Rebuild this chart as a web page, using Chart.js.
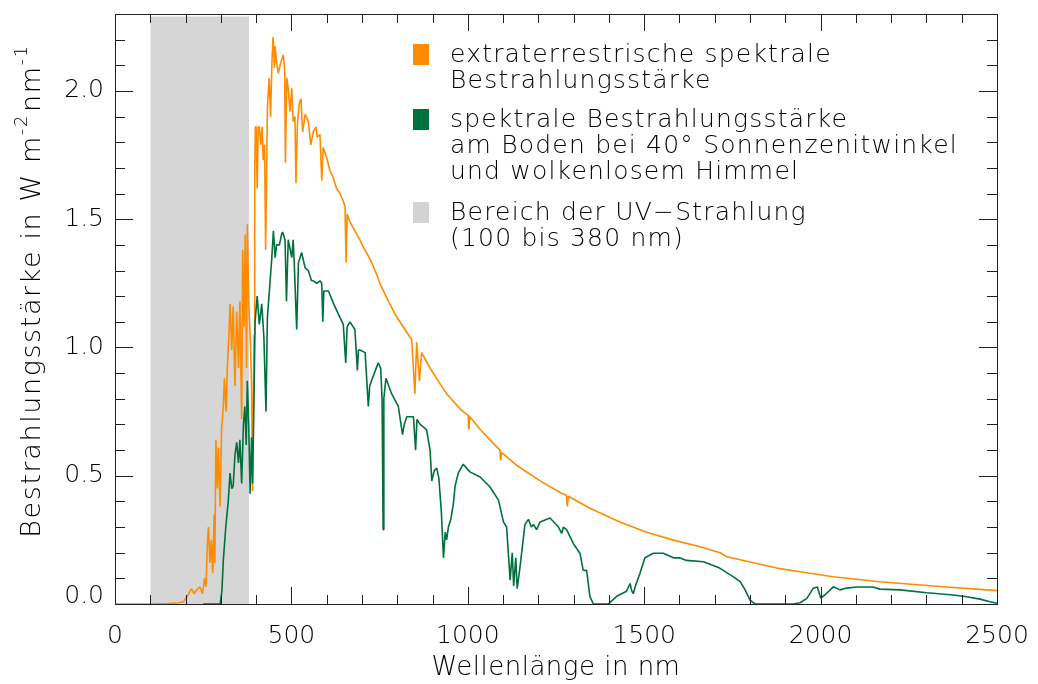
<!DOCTYPE html>
<html>
<head>
<meta charset="utf-8">
<script src="https://cdn.jsdelivr.net/npm/chart.js@4.4.1/dist/chart.umd.min.js"></script>
<style>
  html, body { margin: 0; padding: 0; background: #fff; }
  #wrap { width: 1038px; height: 684px; position: relative; }
</style>
</head>
<body>
<div id="wrap"><canvas id="c" width="1038" height="684"></canvas></div>
<script>
// ---------- data ----------
const extraWl = [0,100,150,180,194,207,217,224,231,241,248,254,258,262,265,269,273,277,281,283,286,290,293,298,302,307,310,315,318,323,326,331,335,340,345,350,354,359,362,366,369,373,375,379,383,387,390,394,396,398,400,403,406,409,413,417,420,424,427,432,437,441,445,448,452,454,458,463,468,472,477,481,483,487,491,496,501,505,510,513,517,522,527,532,539,548,555,562,570,573,581,586,590,600,609,619,628,638,647,652,655,658,666,680,694,704,713,728,746,751,775,798,822,841,850,855,863,869,893,916,940,959,978,1001,1003,1006,1035,1063,1091,1093,1096,1139,1205,1268,1280,1282,1285,1346,1431,1507,1583,1639,1658,1715,1734,1819,1876,1942,2035,2168,2319,2500];
const extraVal = [0,0,0.002,0.005,0.009,0.035,0.06,0.04,0.055,0.066,0.04,0.10,0.067,0.24,0.30,0.16,0.25,0.12,0.35,0.16,0.64,0.45,0.61,0.38,0.68,0.77,0.88,0.75,0.91,1.05,1.17,0.99,1.16,0.85,1.14,0.92,1.18,0.72,1.38,1.08,1.44,0.92,1.48,1.18,1.05,0.86,0.44,1.05,1.68,1.86,1.86,1.62,1.86,1.86,1.79,1.86,1.73,1.79,1.38,1.935,2.05,1.90,2.12,2.21,2.09,2.175,2.11,2.07,2.10,2.12,2.14,2.08,1.72,2.05,2.01,1.92,2.01,1.88,1.90,1.64,1.87,1.95,1.97,1.84,1.91,1.88,1.79,1.84,1.86,1.82,1.83,1.65,1.78,1.74,1.69,1.66,1.62,1.60,1.57,1.55,1.33,1.52,1.49,1.455,1.42,1.39,1.37,1.33,1.27,1.25,1.18,1.12,1.07,1.03,0.82,1.02,0.87,0.98,0.92,0.87,0.82,0.79,0.76,0.735,0.68,0.73,0.68,0.64,0.60,0.56,0.59,0.54,0.48,0.43,0.424,0.38,0.42,0.373,0.32,0.28,0.249,0.23,0.223,0.20,0.184,0.158,0.14,0.126,0.106,0.087,0.07,0.052];

const groundWl = [250,298,303,307,314,321,326,331,335,340,345,350,354,359,364,368,372,375,379,383,387,390,394,397,403,409,416,422,428,432,437,444,449,454,458,466,472,475,482,486,491,501,505,508,515,520,529,539,548,557,562,572,581,586,589,592,605,620,633,647,654,658,666,680,687,690,694,709,718,722,727,746,753,757,760,762,768,784,803,815,820,827,846,852,856,865,883,893,898,905,912,918,925,931,936,940,945,952,959,964,973,987,1006,1035,1063,1087,1101,1110,1120,1126,1130,1136,1140,1148,1162,1172,1180,1186,1195,1205,1233,1257,1266,1271,1280,1299,1318,1327,1337,1346,1356,1398,1422,1450,1460,1465,1469,1475,1488,1502,1526,1554,1583,1600,1620,1668,1705,1715,1753,1772,1786,1800,1814,1923,1942,1961,1979,1991,2000,2012,2036,2055,2074,2102,2149,2168,2225,2301,2376,2414,2452,2480,2500];
const groundVal = [0,0,0.05,0.17,0.30,0.40,0.51,0.45,0.46,0.58,0.63,0.55,0.64,0.47,0.70,0.77,0.62,0.87,0.70,0.43,0.65,0.47,0.80,1.10,1.20,1.09,1.17,1.04,0.75,1.12,1.21,1.34,1.455,1.35,1.40,1.40,1.44,1.45,1.42,1.18,1.42,1.35,1.42,1.33,1.07,1.33,1.37,1.31,1.30,1.26,1.26,1.25,1.26,1.25,1.10,1.22,1.22,1.17,1.13,1.09,0.94,1.08,1.10,1.07,0.91,0.99,0.99,0.98,0.77,0.85,0.87,0.94,0.92,0.80,0.29,0.80,0.88,0.82,0.77,0.66,0.70,0.73,0.73,0.60,0.72,0.70,0.68,0.60,0.48,0.52,0.53,0.49,0.36,0.18,0.28,0.25,0.30,0.33,0.39,0.46,0.51,0.545,0.515,0.495,0.456,0.405,0.32,0.30,0.093,0.20,0.07,0.18,0.06,0.145,0.31,0.33,0.30,0.31,0.29,0.32,0.335,0.30,0.275,0.30,0.29,0.236,0.197,0.132,0.13,0.03,0,0,0.03,0.05,0.08,0.05,0.04,0.07,0.12,0.18,0.198,0.198,0.18,0.18,0.17,0.165,0.145,0.139,0.106,0.087,0.055,0.015,0,0,0.005,0.022,0.061,0.066,0.023,0.035,0.067,0.055,0.062,0.066,0.066,0.058,0.055,0.044,0.035,0.028,0.019,0.009,0.003];

const uvRange = [100, 380];      // nm
const uvTop = 2.29;

const xTicks = [0, 500, 1000, 1500, 2000, 2500];
const yTicks = [0.0, 0.5, 1.0, 1.5, 2.0];
const xMinorStep = 100;
const yMinorStep = 0.1;

const legendItems = [
  { color: '#ff8c00', lines: ['extraterrestrische spektrale', 'Bestrahlungsstärke'] },
  { color: '#00703c', lines: ['spektrale Bestrahlungsstärke', 'am Boden bei 40° Sonnenzenitwinkel', 'und wolkenlosem Himmel'] },
  { color: '#d3d3d3', lines: ['Bereich der UV\u2212Strahlung', '(100 bis 380 nm)'] }
];
const xTitle = 'Wellenlänge in nm';
const yTitleParts = [['Bestrahlungsstärke in W m', false], ['-2', true], ['nm', false], ['-1', true]];

// ---------- chart ----------
const FONT = '"DejaVu Sans", sans-serif';
const W = '200 ';
const TEXT = '#000000';
Chart.defaults.font.family = FONT;
Chart.defaults.color = TEXT;

const decor = {
  id: 'decor',
  afterDraw(chart) {
    const ctx = chart.ctx, ca = chart.chartArea;
    const xs = chart.scales.x, ys = chart.scales.y;
    ctx.save();
    ctx.strokeStyle = '#202020';
    ctx.lineWidth = 1;
    ctx.strokeRect(Math.round(ca.left) + 0.5, Math.round(ca.top) + 0.5,
                   Math.round(ca.right - ca.left), Math.round(ca.bottom - ca.top));
    ctx.beginPath();
    for (let v = xs.min; v <= xs.max + 1e-9; v += xMinorStep) {
      const major = xTicks.some(t => Math.abs(t - v) < 1e-6);
      const L = major ? 17 : 9;
      const px = Math.round(xs.getPixelForValue(v)) + 0.5;
      ctx.moveTo(px, ca.bottom); ctx.lineTo(px, ca.bottom - L);
      ctx.moveTo(px, ca.top); ctx.lineTo(px, ca.top + L);
    }
    for (let k = 0; ; k++) {
      const v = ys.min + k * yMinorStep;
      if (v > ys.max + 1e-9) break;
      const major = yTicks.some(t => Math.abs(t - v) < 1e-6);
      const L = major ? 18 : 10;
      const py = Math.round(ys.getPixelForValue(v)) + 0.5;
      ctx.moveTo(ca.left, py); ctx.lineTo(ca.left + L, py);
      ctx.moveTo(ca.right, py); ctx.lineTo(ca.right - L, py);
    }
    ctx.stroke();

    ctx.fillStyle = TEXT;
    ctx.textBaseline = 'middle';

    // y tick labels (the 0.0 label sits slightly raised, as in the original)
    ctx.font = W + '25px ' + FONT;
    ctx.textAlign = 'right';
    yTicks.forEach(v => {
      const py = ys.getPixelForValue(v) - (v === 0 ? 8 : 0);
      ctx.fillText(v.toFixed(1), ca.left - 11, py);
    });

    // legend
    ctx.textAlign = 'left';
    try { ctx.letterSpacing = '1.2px'; } catch (e) {}
    const blockY = [55, 120, 213];
    const lineH = 26;
    legendItems.forEach((it, i) => {
      ctx.fillStyle = it.color;
      ctx.fillRect(413, blockY[i] - 11, 16, 21);
      ctx.fillStyle = TEXT;
      it.lines.forEach((ln, j) => ctx.fillText(ln, 450, blockY[i] + j * lineH));
    });

    // x title
    ctx.textAlign = 'center';
    ctx.font = W + '26px ' + FONT;
    try { ctx.letterSpacing = '0.5px'; } catch (e) {}
    ctx.fillText(xTitle, (ca.left + ca.right) / 2, 668);

    // y title with superscripts
    try { ctx.letterSpacing = '1.6px'; } catch (e) {}
    ctx.save();
    ctx.translate(33, 290);
    ctx.rotate(-Math.PI / 2);
    ctx.textAlign = 'left';
    const bigF = W + '27px ' + FONT, supF = W + '18px ' + FONT;
    let total = 0;
    yTitleParts.forEach(([t, sup]) => { ctx.font = sup ? supF : bigF; total += ctx.measureText(t).width + (sup ? 2 : 0); });
    let xx = -total / 2;
    yTitleParts.forEach(([t, sup]) => {
      ctx.font = sup ? supF : bigF;
      ctx.fillText(t, xx, sup ? -11 : 0);
      xx += ctx.measureText(t).width + (sup ? 2 : 0);
    });
    ctx.restore();
    ctx.restore();
  }
};

new Chart(document.getElementById('c'), {
  type: 'line',
  data: {
    datasets: [
      {
        label: 'UV',
        data: uvRange.map(x => ({ x, y: uvTop })),
        fill: 'origin',
        backgroundColor: '#d6d6d6',
        borderWidth: 0,
        pointRadius: 0,
        order: 3
      },
      {
        label: 'extraterrestrisch',
        data: extraWl.map((x, i) => ({ x, y: extraVal[i] })),
        borderColor: '#ff8c00',
        borderWidth: 1.6,
        borderJoinStyle: 'bevel',
        pointRadius: 0,
        fill: false,
        tension: 0,
        order: 2
      },
      {
        label: 'Boden',
        data: groundWl.map((x, i) => ({ x, y: groundVal[i] })),
        borderColor: '#00703c',
        borderWidth: 1.6,
        borderJoinStyle: 'bevel',
        pointRadius: 0,
        fill: false,
        tension: 0,
        order: 1
      }
    ]
  },
  options: {
    responsive: false,
    animation: false,
    events: [],
    layout: { padding: { left: 0, top: 14, right: 41, bottom: 0 } },
    plugins: { legend: { display: false }, tooltip: { enabled: false } },
    scales: {
      x: {
        type: 'linear',
        min: 0, max: 2500,
        grid: { display: false, drawTicks: false },
        border: { display: false },
        afterBuildTicks: s => { s.ticks = xTicks.map(v => ({ value: v })); },
        afterFit: s => { s.height = 80; s.paddingLeft = 0; s.paddingRight = 0; s.paddingTop = 0; s.paddingBottom = 0; },
        ticks: { font: { size: 25, weight: '200' }, color: TEXT, padding: 17, maxRotation: 0, autoSkip: false, callback: v => String(v) }
      },
      y: {
        type: 'linear',
        min: 0, max: 2.3,
        grid: { display: false, drawTicks: false },
        border: { display: false },
        afterBuildTicks: s => { s.ticks = yTicks.map(v => ({ value: v })); },
        afterFit: s => { s.width = 115; s.paddingLeft = 0; s.paddingRight = 0; s.paddingTop = 0; s.paddingBottom = 0; },
        ticks: { display: false }
      }
    }
  },
  plugins: [decor]
});
</script>
</body>
</html>
